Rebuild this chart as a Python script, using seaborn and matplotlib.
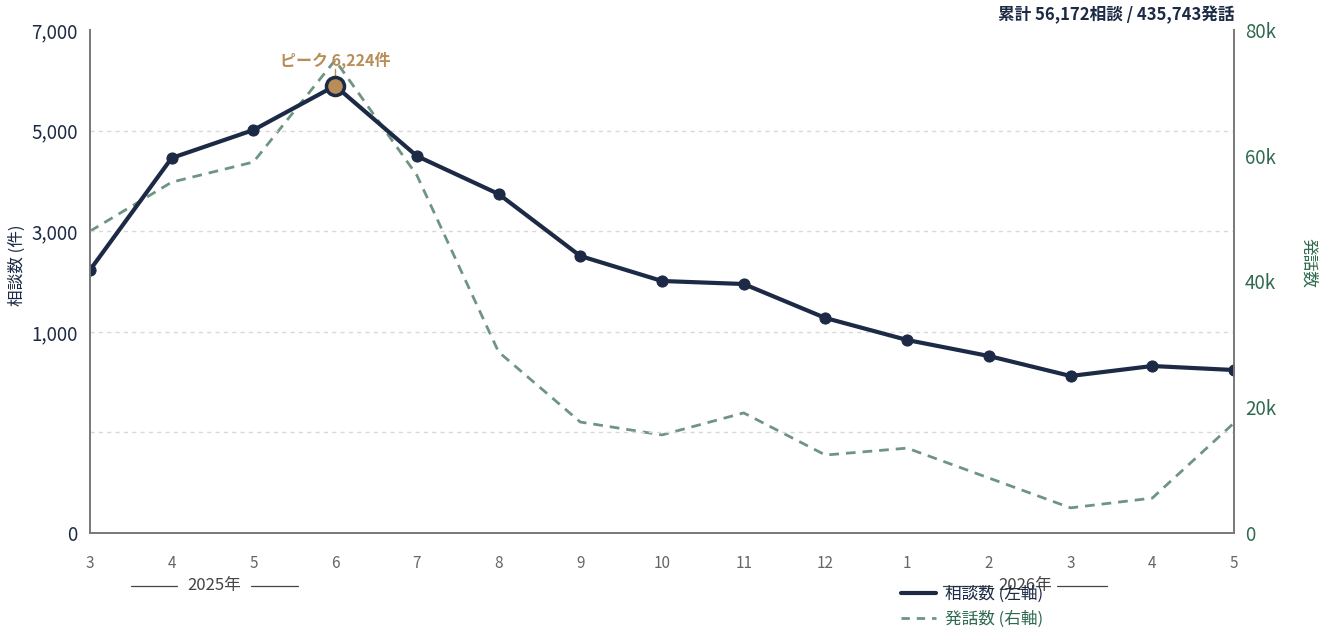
import numpy as np
import pandas as pd
import seaborn as sns
import matplotlib.pyplot as plt
from matplotlib.lines import Line2D

# データ
months = ["3", "4", "5", "6", "7", "8", "9", "10", "11", "12", "1", "2", "3", "4", "5"]
consults = [3660, 5219, 5608, 6224, 5246, 4718, 3855, 3507, 3465, 2992, 2686, 2463, 2185, 2324, 2268]
utterances = [48000, 55800, 59000, 75200, 56900, 28800, 17650, 15600, 19100, 12400, 13500, 8750, 4000, 5550, 17500]
left_ticks = [0, 1400, 2800, 4200, 5600, 7000]
left_tick_labels = ["0", "", "1,000", "3,000", "5,000", "7,000"]
right_ticks = [0, 20000, 40000, 60000, 80000]
right_tick_labels = ["0", "20k", "40k", "60k", "80k"]
total_text = "累計 56,172相談 / 435,743発話"

NAVY = "#1c2a45"
GREEN = "#6e9583"
GREEN_TXT = "#2f6a50"
TAN = "#b98d57"
GRAY = "#666666"

df = pd.DataFrame({"idx": np.arange(len(months)), "consults": consults, "utterances": utterances})

sns.set_style("white")
plt.rcParams["font.family"] = ["Noto Sans CJK JP", "DejaVu Sans"]

fig = plt.figure(figsize=(13.31, 6.35), dpi=100)
ax = fig.add_axes([90 / 1331, 1 - 533 / 635, (1234 - 90) / 1331, (533 - 30) / 635])
ax2 = ax.twinx()

# 右軸: 発話数 (破線)
sns.lineplot(data=df, x="idx", y="utterances", ax=ax2, color=GREEN, lw=2, linestyle=(0, (3.5, 2.5)))
# 左軸: 相談数
sns.lineplot(data=df, x="idx", y="consults", ax=ax, color=NAVY, lw=3, marker="o", markersize=8,
             markeredgecolor=NAVY, markerfacecolor=NAVY)

# ピーク
pk = int(np.argmax(consults))
ax.plot(pk, consults[pk], "o", markersize=13, markerfacecolor=TAN, markeredgecolor=NAVY, markeredgewidth=2.5, zorder=5)
ax.annotate(f"ピーク {consults[pk]:,}件", xy=(pk, consults[pk]), xytext=(0, 18.5), textcoords="offset points",
            ha="center", va="center", color=TAN, fontsize=11.5, fontweight="bold")
ax.plot([pk, pk], [consults[pk] + 110, consults[pk] + 230], color=TAN, lw=1)

ax.set_zorder(ax2.get_zorder() + 1)
ax.patch.set_visible(False)

ax.set_xlim(0, len(months) - 1)
ax.set_ylim(0, 7000)
ax2.set_ylim(0, 80000)
ax.set_xticks(df["idx"])
ax.set_xticklabels(months, color=GRAY, fontsize=11)
ax.set_yticks(left_ticks)
ax.set_yticklabels(left_tick_labels, color=NAVY, fontsize=13.5)
ax2.set_yticks(right_ticks)
ax2.set_yticklabels(right_tick_labels, color=GREEN_TXT, fontsize=13.5)
ax.tick_params(axis="x", length=0, pad=16)
ax.tick_params(axis="y", length=0, pad=9)
ax2.tick_params(axis="y", length=0, pad=8)
ax.set_xlabel("")
ax.set_ylabel("")
ax2.set_ylabel("")

# 軸タイトル
fig.text(17 / 1331, 1 - 265 / 635, "相談数 (件)", rotation=90, ha="center", va="center", color=NAVY, fontsize=12)
fig.text(1308 / 1331, 1 - 263 / 635, "発話数", rotation=-90, ha="center", va="center", color=GREEN_TXT, fontsize=12)

# グリッド
for t in left_ticks[1:-1]:
    ax.axhline(t, color="#d9d9d9", lw=1, linestyle=(0, (3, 3)), zorder=0)

for a in (ax, ax2):
    a.spines["top"].set_visible(False)
    for s in ("left", "right", "bottom"):
        a.spines[s].set_color("#7a7a7a")
        a.spines[s].set_linewidth(1.3)

# 年ラベル
def year_label(xc, text, half_gap, half_len):
    y = -0.105
    ax.text(xc, y, text, transform=ax.get_xaxis_transform(), ha="center", va="center",
            color="#444444", fontsize=12, clip_on=False)
    for s in (-1, 1):
        ax.add_line(Line2D([xc + s * half_gap, xc + s * half_len], [y, y], transform=ax.get_xaxis_transform(),
                           color="#444444", lw=0.9, clip_on=False))

year_label(1.52, "2025年", 0.45, 1.02)
year_label(11.44, "2026年", 0.4, 1.0)

# 凡例
handles = [Line2D([], [], color=NAVY, lw=3), Line2D([], [], color=GREEN, lw=2, linestyle=(0, (3, 2.5)))]
leg = fig.legend(handles, ["相談数 (左軸)", "発話数 (右軸)"], loc="upper left",
                 bbox_to_anchor=(886 / 1331, 1 - 571 / 635), frameon=False, fontsize=12,
                 handlelength=2.1, handletextpad=0.55, labelspacing=0.45)
leg.get_texts()[0].set_color(NAVY)
leg.get_texts()[1].set_color(GREEN_TXT)

fig.text(1234 / 1331, 1 - 15 / 635, total_text, ha="right", va="center",
         color=NAVY, fontsize=12, fontweight="bold")

fig.savefig("out.png", dpi=100)
